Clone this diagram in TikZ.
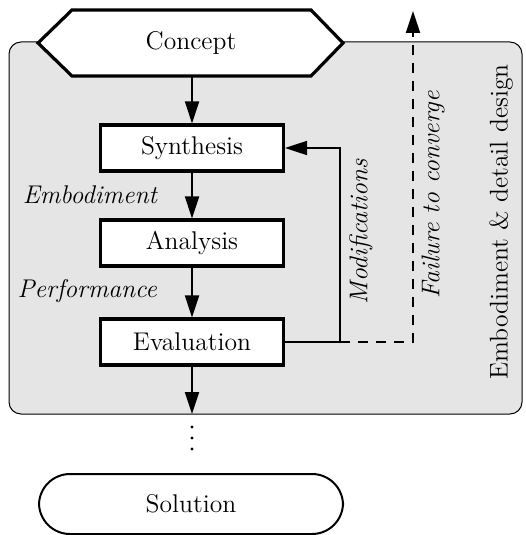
\documentclass[tikz,border=0pt]{standalone}
\usetikzlibrary{arrows.meta}
\begin{document}
\begin{tikzpicture}[x=0.5pt,y=-0.5pt,
  every node/.style={font=\fontsize{12.8}{15}\selectfont},
  procbox/.style={draw,line width=1.6pt,fill=white,minimum width=91.5pt,minimum height=23pt,inner sep=0pt},
  tip/.style={-{Triangle[length=11pt,width=7pt]}},
  flow/.style={line width=1pt,tip},
  lab/.style={font=\fontsize{12.8}{15}\selectfont\itshape}]
\useasboundingbox (0,0) rectangle (525,535);
% gray region
\draw[fill=black!10,line width=0.5pt,rounded corners=6pt] (9,42) rectangle (522,414);
% concept hexagon
\draw[fill=white,line width=1.6pt] (38,43) -- (72,10) -- (311,10) -- (343,43) -- (311,76) -- (72,76) -- cycle;
\node (concept) at (191,43) {Concept};
\coordinate (cbot) at (192,76);
% process boxes
\node[procbox] (synth) at (192,148) {Synthesis};
\node[procbox] (anal) at (192,243) {Analysis};
\node[procbox] (eval) at (192,342) {Evaluation};
\coordinate (exit) at (192,414);
\draw[flow] (cbot) -- (synth.north);
\draw[flow] (synth) -- (anal);
\draw[flow] (anal) -- (eval);
\draw[flow] (eval) -- (exit);
\node[lab,anchor=east] (emb) at (164,195) {Embodiment};
\node[lab,anchor=east] (perf) at (164,291) {Performance};
% modifications loop
\coordinate (mb) at (340,342);
\coordinate (mt) at (340,148);
\draw[flow] (eval.east) -- (mb) -- (mt) -- (synth.east);
\node[lab,rotate=90] (modl) at (361,232) {Modifications};
% failure to converge
\coordinate (fb) at (413,342);
\coordinate (ft) at (413,11);
\draw[line width=1pt,dash pattern=on 5pt off 4pt,tip] (mb) -- (fb) -- (ft);
\node[lab,rotate=90] (fail) at (433,195) {Failure to converge};
\node[rotate=90] (edd) at (501,222) {Embodiment \& detail design};
% dots and solution
\foreach \yy in {427,438,449} \fill (192,\yy) circle (0.8pt);
\node[draw,line width=1pt,rounded corners=15.5pt,minimum width=152pt,minimum height=30pt] (sol) at (191,504) {Solution};
\end{tikzpicture}
\end{document}
